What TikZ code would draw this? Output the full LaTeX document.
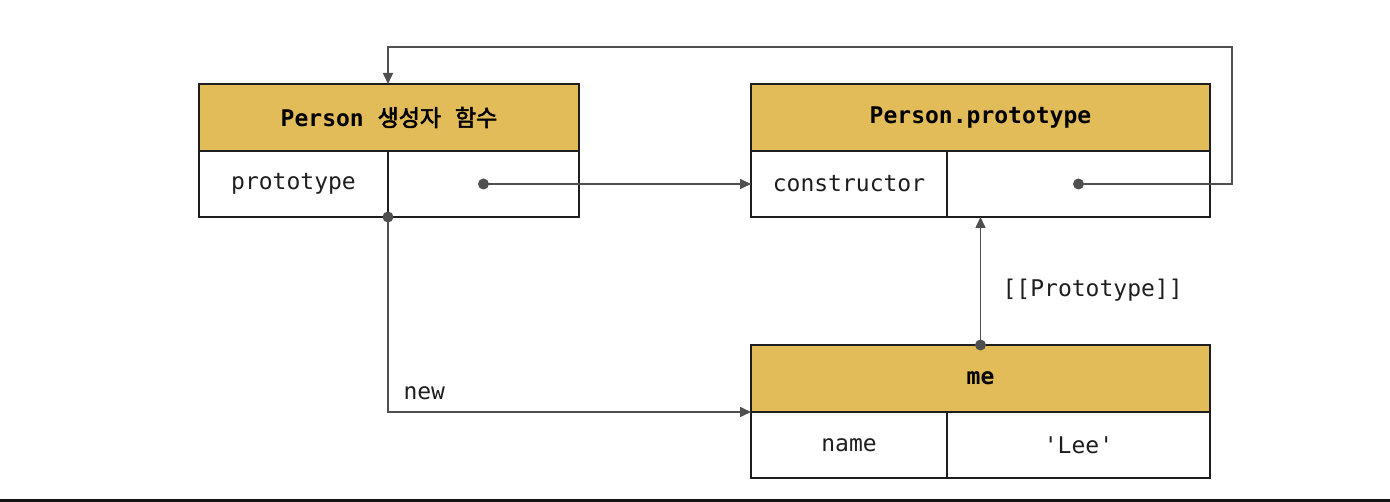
\documentclass[tikz,border=0pt]{standalone}
\usepackage{fontspec}
\setmonofont{DejaVu Sans Mono}
\newfontfamily\krfont{Noto Sans CJK KR}[AutoFakeBold=2.5]
\usetikzlibrary{arrows.meta,positioning}

\definecolor{headfill}{HTML}{E3BC5A}
\definecolor{linkgray}{HTML}{4F4F4F}
\definecolor{boxline}{HTML}{1E1E1E}

\tikzset{
  head/.style={draw=boxline, line width=1.8pt, fill=headfill, minimum height=67pt,
    inner sep=0pt, outer sep=0pt, anchor=north west,
    font=\fontsize{23}{27}\selectfont\ttfamily\bfseries},
  cell/.style={draw=boxline, line width=1.8pt, minimum height=66pt, inner sep=0pt,
    outer sep=0pt, anchor=north west, text=boxline,
    font=\fontsize{23}{27}\selectfont\ttfamily},
  link/.style={draw=linkgray, line width=1.6pt, -{Triangle[length=11pt,width=10pt]}},
  dot/.style={circle, fill=linkgray, inner sep=0pt, minimum size=11pt},
  lbl/.style={text=boxline, font=\fontsize{23}{27}\selectfont\ttfamily}
}

\begin{document}
\begin{tikzpicture}[x=1pt,y=-1pt]
  \useasboundingbox (0,0) rectangle (1390,502);

  % Person constructor
  \node[head, minimum width=380pt] (phead) at (199,84)
    {Person {\krfont\bfseries 생성자}\ {\krfont\bfseries 함수}};
  \node[cell, minimum width=189pt] (pkey) at (phead.south west) {prototype};
  \node[cell, minimum width=191pt] (pval) at (pkey.north east) {};

  % Person.prototype
  \node[head, minimum width=459pt] (chead) at (751,84) {Person.prototype};
  \node[cell, minimum width=196pt] (ckey) at (chead.south west) {constructor};
  \node[cell, minimum width=263pt] (cval) at (ckey.north east) {};

  % me
  \node[head, minimum width=459pt] (mhead) at (751,345) {me};
  \node[cell, minimum width=196pt] (mkey) at (mhead.south west) {name};
  \node[cell, minimum width=263pt] (mval) at (mkey.north east) {'Lee'};

  \coordinate (loop) at (1232,47);

  % links
  \draw[link] (pval.center) -- (ckey.west);
  \draw[link] (cval.center) -| (loop) -| (phead.north -| pkey.east);
  \draw[link] (pkey.south east) |- node[lbl, pos=0.55, above=8pt] {new} (mhead.south west);
  \draw[link] (mhead.north) -- (mhead.north |- cval.south)
    node[lbl, midway, right=18pt, yshift=-9pt] {[[Prototype]]};

  \node[dot] (pdot) at (pval.center) {};
  \node[dot] (cdot) at (cval.center) {};
  \node[dot] (ndot) at (pkey.south east) {};
  \node[dot] (mdot) at (mhead.north) {};

  \fill[black!92] (0,499) rectangle (1390,502);
\end{tikzpicture}
\end{document}
